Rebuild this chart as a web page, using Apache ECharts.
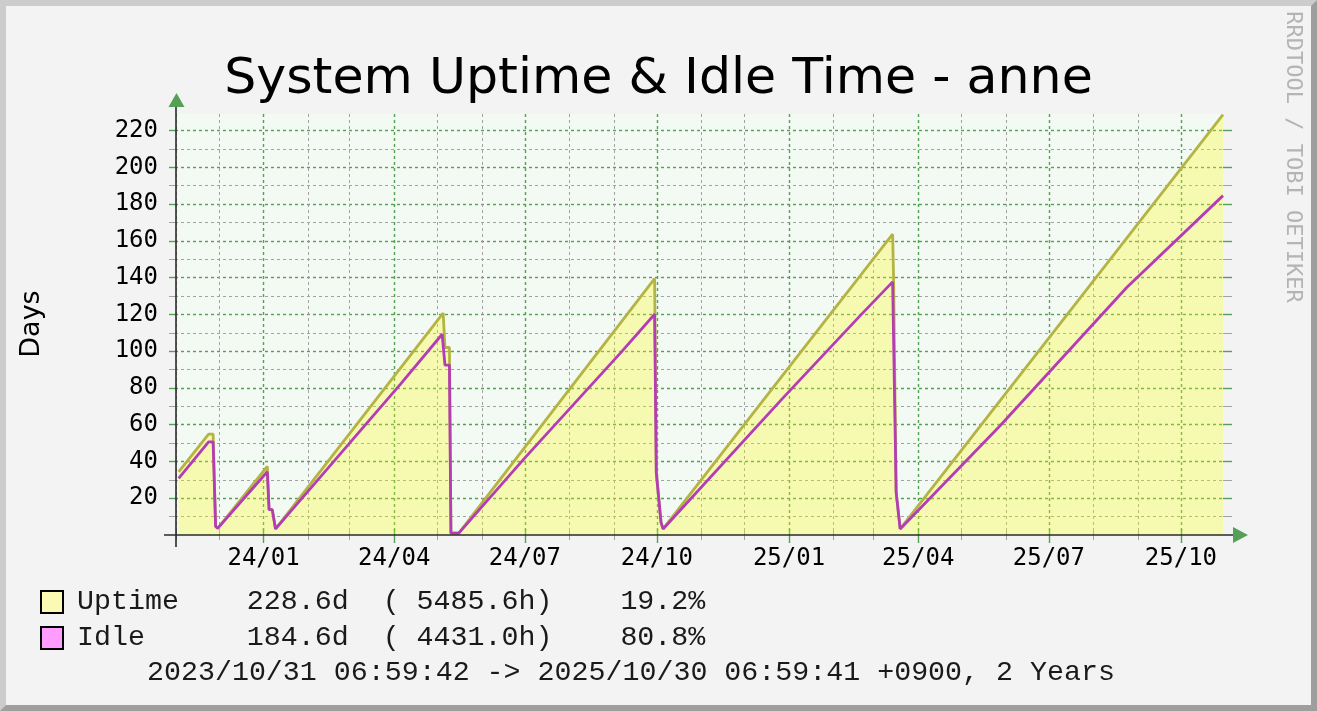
<!DOCTYPE html>
<html><head><meta charset="utf-8">
<script src="https://cdn.jsdelivr.net/npm/echarts@6/dist/echarts.min.js"></script>
<style>
html,body{margin:0;padding:0;background:#f3f3f3;}
#wrap{position:relative;width:1317px;height:711px;overflow:hidden;}
#chart{position:absolute;left:0;top:0;width:1317px;height:711px;}
#frame{position:absolute;left:0;top:0;width:1317px;height:711px;box-sizing:border-box;border-style:solid;border-width:6px;border-color:#cccccc #9e9e9e #9e9e9e #cccccc;pointer-events:none;}
</style></head><body>
<div id="wrap"><div id="chart"></div><div id="frame"></div></div>
<script>
// ---- data (times are JST, +09:00) ----
const TZ = '+09:00';
const rangeStart = '2023-10-31T06:59:42';
const rangeEnd = '2025-10-30T06:59:41';

const uptimeTimes = [
  '2023-11-02T20:00','2023-11-23T17:00','2023-11-26T20:00','2023-11-28T14:00','2023-11-30T00:00',
  '2024-01-03T14:00','2024-01-04T20:00','2024-01-07T01:00','2024-01-09T08:00',
  '2024-05-05T02:00','2024-05-06T08:00','2024-05-09T11:00','2024-05-10T12:00','2024-05-15T23:00',
  '2024-09-29T09:00','2024-09-30T13:00','2024-10-03T20:00','2024-10-05T06:00',
  '2025-03-14T04:00','2025-03-14T21:00','2025-03-16T15:00','2025-03-19T10:00',
  '2025-10-30T06:59'
];
const uptimeDays = [
  34.4, 54.9, 54.9, 4.7, 3.6,
  37.3, 13.8, 13.8, 3.3,
  120.7, 102.0, 102.0, 1.0, 1.0,
  139.5, 34.0, 6.9, 3.3,
  163.6, 137.7, 23.2, 3.3,
  228.6
];
const idleTimes = [
  '2023-11-02T20:00','2023-11-23T17:00','2023-11-26T20:00','2023-11-28T14:00','2023-11-30T00:00',
  '2024-01-03T14:00','2024-01-04T20:00','2024-01-07T01:00','2024-01-09T08:00',
  '2024-04-05T09:00','2024-05-04T09:00','2024-05-06T08:00','2024-05-09T11:00','2024-05-10T12:00','2024-05-15T23:00',
  '2024-06-30T05:00','2024-09-05T12:00','2024-09-29T09:00','2024-09-30T13:00','2024-10-03T20:00','2024-10-05T06:00',
  '2024-12-27T01:00','2025-02-19T10:00','2025-03-14T04:00','2025-03-16T15:00','2025-03-19T10:00',
  '2025-05-28T00:30','2025-08-24T05:00','2025-10-30T06:59'
];
const idleDays = [
  30.8, 50.7, 50.7, 4.7, 3.6,
  34.4, 13.8, 13.8, 3.3,
  82.1, 109.2, 92.4, 92.4, 1.0, 1.0,
  41.3, 98.9, 120.1, 34.0, 6.9, 3.3,
  73.9, 119.2, 137.7, 23.2, 3.3,
  59.4, 134.6, 184.6
];

const majorTickDates = ['2024-01-01','2024-04-01','2024-07-01','2024-10-01','2025-01-01','2025-04-01','2025-07-01','2025-10-01'];
const majorTickLabels = ['24/01','24/04','24/07','24/10','25/01','25/04','25/07','25/10'];
const minorTickDates = ['2023-11-01','2023-12-01','2024-02-01','2024-03-01','2024-05-01','2024-06-01','2024-08-01','2024-09-01',
  '2024-11-01','2024-12-01','2025-02-01','2025-03-01','2025-05-01','2025-06-01','2025-08-01','2025-09-01'];
const yMajorTicks = [20,40,60,80,100,120,140,160,180,200,220];
const yMinorTicks = [10,30,50,70,90,110,130,150,170,190,210];
const yMin = 0, yMax = 229;

const titleText = 'System Uptime & Idle Time - anne';
const yAxisTitle = 'Days';
const legendRows = [
  'Uptime    228.6d  ( 5485.6h)    19.2%',
  'Idle      184.6d  ( 4431.0h)    80.8%'
];
const footerText = '2023/10/31 06:59:42 -> 2025/10/30 06:59:41 +0900, 2 Years';
const watermark = 'RRDTOOL / TOBI OETIKER';

// ---- build ----
const ts = s => Date.parse((s.length === 10 ? s + 'T00:00' : s) + TZ);
const majorVals = majorTickDates.map(ts);
const minorVals = minorTickDates.map(ts);
const labelFor = v => {
  let best = 0, bd = Infinity;
  majorVals.forEach((m, i) => { const d = Math.abs(m - v); if (d < bd) { bd = d; best = i; } });
  return bd < 86400000 ? majorTickLabels[best] : '';
};

const GREEN = '#56a056';
const GRAY = '#a2a2a2';
const dashG = {color: GREEN, width: 1.4, type: [3, 3]};
const dashM = {color: GRAY, width: 1, type: [3, 3]};

const chart = echarts.init(document.getElementById('chart'), null, {renderer: 'canvas'});

function xAx(pos, opts) {
  return Object.assign({
    type: 'value', position: pos, min: ts(rangeStart), max: ts(rangeEnd), scale: true,
    axisLine: {show: false},
    axisLabel: {show: false},
    axisTick: {show: false},
    splitLine: {show: false}
  }, opts);
}
function yAx(pos, opts) {
  return Object.assign({
    type: 'value', position: pos, min: yMin, max: yMax,
    axisLine: {show: false}, axisLabel: {show: false},
    axisTick: {show: false}, splitLine: {show: false}
  }, opts);
}

const option = {
  animation: false,
  backgroundColor: '#f3f3f3',
  title: {
    text: titleText, left: 'center', top: 49,
    textStyle: {fontFamily: 'DejaVu Sans', fontSize: 50.6, fontWeight: 'normal', color: '#000'}
  },
  grid: {left: 175, right: 94, top: 114, bottom: 176, show: true, backgroundColor: '#f3f9f3', borderWidth: 0, containLabel: false},
  xAxis: [
    xAx('bottom', {
      axisLabel: {show: true, customValues: majorVals, formatter: v => labelFor(v), margin: 12,
        fontFamily: 'DejaVu Sans Mono', fontSize: 24, color: '#000'},
      axisTick: {show: true, customValues: majorVals, length: 8, lineStyle: {color: GREEN, width: 1.4}},
      splitLine: {show: true, lineStyle: dashG}
    }),
    xAx('bottom', {
      axisTick: {show: true, customValues: minorVals, length: 5, lineStyle: {color: GRAY, width: 1}},
      splitLine: {show: true, lineStyle: dashM}
    }),
    xAx('top', {
      axisTick: {show: true, customValues: majorVals, length: 6, lineStyle: {color: GREEN, width: 1.4}}
    }),
    xAx('top', {
      axisTick: {show: true, customValues: minorVals, length: 6, lineStyle: {color: GRAY, width: 1}}
    })
  ],
  yAxis: [
    yAx('left', {
      axisLabel: {show: true, customValues: yMajorTicks, margin: 17,
        fontFamily: 'DejaVu Sans Mono', fontSize: 24, color: '#000'},
      axisTick: {show: true, customValues: yMajorTicks, length: 6, lineStyle: {color: GREEN, width: 1.4}},
      splitLine: {show: true, lineStyle: dashG}
    }),
    yAx('left', {
      axisTick: {show: true, customValues: yMinorTicks, length: 6, lineStyle: {color: GRAY, width: 1}},
      splitLine: {show: true, lineStyle: dashM}
    }),
    yAx('right', {
      axisTick: {show: true, customValues: yMajorTicks, length: 9, lineStyle: {color: GREEN, width: 1.4}}
    }),
    yAx('right', {
      axisTick: {show: true, customValues: yMinorTicks, length: 9, lineStyle: {color: GRAY, width: 1}}
    })
  ],
  series: [
    {
      name: 'Uptime', type: 'line', xAxisIndex: 0, yAxisIndex: 0,
      data: uptimeTimes.map((t, i) => [ts(t), uptimeDays[i]]),
      symbol: 'none', showSymbol: false,
      lineStyle: {color: '#b4b444', width: 2.8},
      areaStyle: {color: 'rgba(255,255,0,0.27)', opacity: 1},
      z: 3
    },
    {
      name: 'Idle', type: 'line', xAxisIndex: 0, yAxisIndex: 0,
      data: idleTimes.map((t, i) => [ts(t), idleDays[i]]),
      symbol: 'none', showSymbol: false,
      lineStyle: {color: '#b43cb4', width: 2.8},
      z: 4
    }
  ],
  graphic: [
    {type: 'line', shape: {x1: 176, y1: 106, x2: 176, y2: 547}, style: {stroke: '#2a2a2a', lineWidth: 1.6}, z: 50},
    {type: 'line', shape: {x1: 164, y1: 535, x2: 1234, y2: 535}, style: {stroke: '#2a2a2a', lineWidth: 1.6}, z: 50},
    {type: 'polygon', shape: {points: [[176.5, 93], [168.5, 107], [184.5, 107]]}, style: {fill: GREEN}, z: 51},
    {type: 'polygon', shape: {points: [[1248, 535], [1233, 527], [1233, 543]]}, style: {fill: GREEN}, z: 51},
    {type: 'text', x: 32, y: 324, rotation: Math.PI / 2,
      style: {text: yAxisTitle, font: '27px "DejaVu Sans"', fill: '#000', textAlign: 'center', textVerticalAlign: 'middle'}},
    {type: 'text', x: 1293, y: 157, rotation: -Math.PI / 2,
      style: {text: watermark, font: '22px "DejaVu Sans Mono"', fill: '#b4b4b4', textAlign: 'center', textVerticalAlign: 'middle'}},
    {type: 'rect', shape: {x: 41, y: 591, width: 22, height: 22}, style: {fill: '#fafab4', stroke: '#000', lineWidth: 2}},
    {type: 'rect', shape: {x: 41, y: 627, width: 22, height: 22}, style: {fill: '#ff9cff', stroke: '#000', lineWidth: 2}},
    {type: 'text', x: 77, y: 602, style: {text: legendRows[0], font: '28.3px "Liberation Mono"', fill: '#1a1a1a', textAlign: 'left', textVerticalAlign: 'middle'}},
    {type: 'text', x: 77, y: 638, style: {text: legendRows[1], font: '28.3px "Liberation Mono"', fill: '#1a1a1a', textAlign: 'left', textVerticalAlign: 'middle'}},
    {type: 'text', x: 147, y: 673, style: {text: footerText, font: '28.3px "Liberation Mono"', fill: '#1a1a1a', textAlign: 'left', textVerticalAlign: 'middle'}}
  ]
};
chart.setOption(option);
</script>
</body></html>
